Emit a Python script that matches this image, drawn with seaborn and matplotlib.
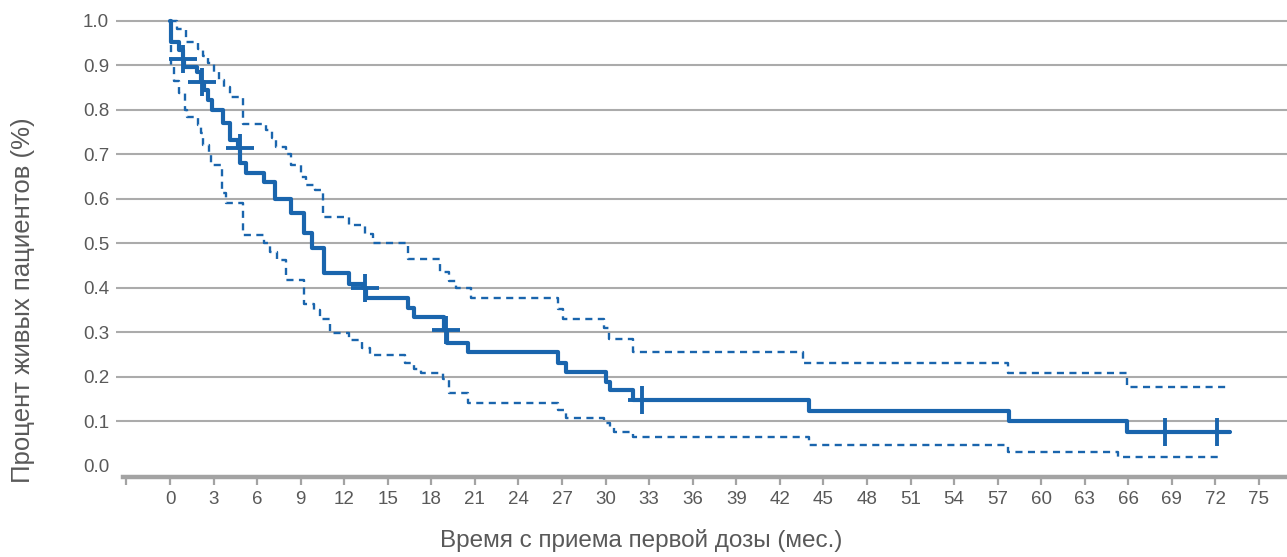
import numpy as np
import pandas as pd
import matplotlib
matplotlib.use("Agg")
import matplotlib.pyplot as plt
import seaborn as sns

# Kaplan-Meier: время (мес.) и доля живых, ступени "post"
km_time = [0, 0.05, 0.64, 0.9, 0.97, 1.85, 2.15, 2.35, 2.64, 2.87, 3.67, 4.1, 4.7,
           4.85, 5.2, 6.5, 7.24, 8.3, 9.2, 9.8, 10.6, 12.3, 13.3, 13.5, 16.4, 16.8,
           18.9, 19.1, 20.5, 26.7, 27.3, 30.0, 30.3, 31.9, 44.0, 57.8, 65.9, 73.0]
km_surv = [1.0, 0.952, 0.934, 0.913, 0.896, 0.885, 0.862, 0.844, 0.821, 0.799, 0.769,
           0.731, 0.714, 0.679, 0.657, 0.638, 0.600, 0.567, 0.522, 0.488, 0.432, 0.409,
           0.400, 0.376, 0.353, 0.334, 0.305, 0.275, 0.254, 0.231, 0.211, 0.188, 0.170,
           0.147, 0.122, 0.100, 0.076, 0.076]

# верхняя граница доверительного интервала
up_time = [0, 0.5, 1.1, 1.9, 2.3, 2.65, 3.0, 3.4, 3.7, 4.1, 5.05, 6.6, 7.0, 7.3, 8.0,
           8.3, 9.0, 9.4, 10.0, 10.56, 12.3, 13.4, 14.0, 16.4, 18.6, 19.2, 19.7, 20.7,
           26.7, 27.1, 29.9, 30.2, 31.9, 43.6, 57.7, 65.9, 72.7]
up_surv = [1.0, 0.980, 0.952, 0.937, 0.920, 0.904, 0.885, 0.866, 0.851, 0.829, 0.767,
           0.754, 0.735, 0.716, 0.700, 0.675, 0.649, 0.630, 0.620, 0.559, 0.540, 0.520,
           0.501, 0.463, 0.435, 0.415, 0.398, 0.376, 0.352, 0.329, 0.310, 0.284, 0.256,
           0.230, 0.209, 0.177, 0.177]

# нижняя граница доверительного интервала
lo_time = [0, 0.05, 0.3, 0.6, 1.0, 1.2, 1.9, 2.1, 2.3, 2.7, 2.85, 3.55, 3.85, 5.05,
           6.5, 6.9, 7.4, 8.0, 9.2, 9.9, 10.3, 11.0, 12.3, 13.2, 13.8, 16.2, 16.8, 17.3,
           18.8, 19.2, 20.5, 26.7, 27.3, 29.9, 30.3, 30.6, 31.9, 44.0, 57.7, 65.3, 72.5]
lo_surv = [1.0, 0.895, 0.865, 0.836, 0.800, 0.784, 0.765, 0.747, 0.720, 0.698, 0.675,
           0.612, 0.589, 0.518, 0.500, 0.480, 0.462, 0.418, 0.364, 0.350, 0.330, 0.298,
           0.282, 0.263, 0.248, 0.230, 0.218, 0.209, 0.195, 0.162, 0.141, 0.125, 0.107,
           0.095, 0.087, 0.076, 0.065, 0.046, 0.030, 0.020, 0.020]

# цензурированные наблюдения
cens_time = [0.92, 2.2, 4.8, 13.4, 19.0, 32.5, 68.5, 72.1]
cens_surv = [0.913, 0.862, 0.714, 0.400, 0.305, 0.147, 0.076, 0.076]

x_ticks = list(range(-3, 76, 3))
x_labels = ["" if t < 0 else str(t) for t in x_ticks]
y_ticks = [round(v * 0.1, 1) for v in range(11)]

BLUE = "#1a65ad"
GRAY_TXT = "#595959"
GRAY_LINE = "#ababab"

sns.set_theme(style="white")
plt.rcParams["font.family"] = ["Liberation Sans", "DejaVu Sans"]

fig = plt.figure(figsize=(12.87, 5.57), dpi=100)
ax = fig.add_axes([116 / 1287, 1 - 477 / 557, 1171 / 1287, 467 / 557])

# доверительный интервал - пунктир
for t, s in [(up_time, up_surv), (lo_time, lo_surv)]:
    sns.lineplot(x=t, y=s, drawstyle="steps-post", estimator=None, sort=False,
                 color=BLUE, linewidth=1.7, linestyle=(0, (3, 2.3)), ax=ax, zorder=3)

sns.lineplot(x=km_time, y=km_surv, drawstyle="steps-post", estimator=None, sort=False,
             color=BLUE, linewidth=3.0, ax=ax, zorder=4)
sns.scatterplot(x=cens_time, y=cens_surv, marker="+", s=380, color=BLUE,
                linewidth=2.8, ax=ax, zorder=5)

ax.set_xlim(-3.72, 76.93)
ax.set_ylim(-0.0258, 1.0236)

ax.set_xticks(x_ticks)
ax.set_xticklabels(x_labels)
ax.set_yticks(y_ticks)
ax.set_yticklabels([f"{v:.1f}" for v in y_ticks])

ax.yaxis.grid(True, color=GRAY_LINE, linewidth=1.5)
ax.get_ygridlines()[0].set_visible(False)
ax.xaxis.grid(False)
ax.set_axisbelow(True)

for side in ["top", "right", "left"]:
    ax.spines[side].set_visible(False)
ax.spines["bottom"].set_color("#a3a3a3")
ax.spines["bottom"].set_linewidth(3.2)
ax.spines["bottom"].set_bounds(-3.25, 76.93)

ax.tick_params(axis="x", direction="out", length=6, width=1.6, color="#a3a3a3",
               pad=4, labelsize=13.5, labelcolor=GRAY_TXT, bottom=True)
ax.tick_params(axis="y", length=0, pad=5, labelsize=13.5, labelcolor=GRAY_TXT)

ax.set_xlabel("")
ax.set_ylabel("")
fig.text(641 / 1287, 1 - 541 / 557, "Время с приема первой дозы (мес.)",
         ha="center", va="center", fontsize=17.5, color=GRAY_TXT)
fig.text(23 / 1287, 1 - 300 / 557, "Процент живых пациентов (%)", rotation=90,
         ha="center", va="center", fontsize=18.5, color=GRAY_TXT)

fig.savefig("out.png", dpi=100)
